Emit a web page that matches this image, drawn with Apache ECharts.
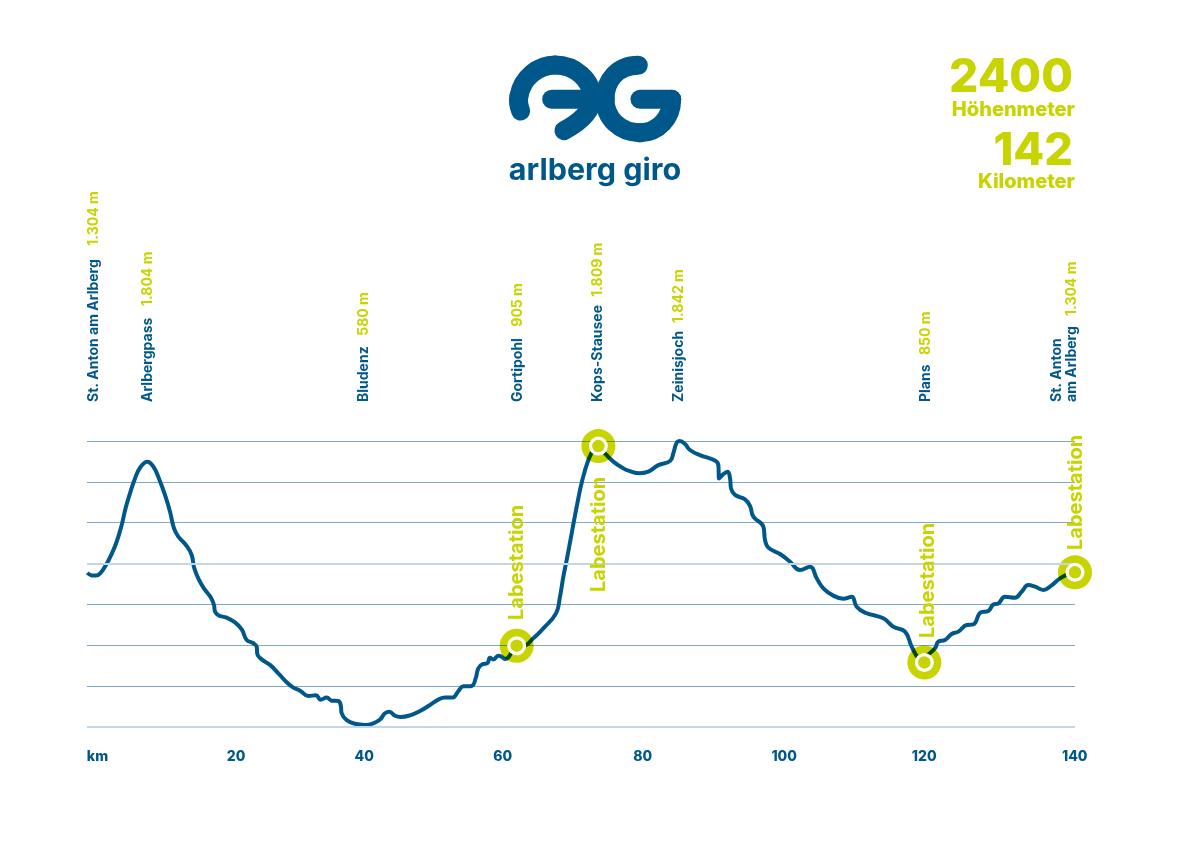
<!DOCTYPE html>
<html>
<head>
<meta charset="utf-8">
<script src="https://cdnjs.cloudflare.com/ajax/libs/echarts/6.0.0/echarts.min.js"></script>
<style>
  html, body { margin: 0; padding: 0; background: #fff; }
  #container { width: 1191px; height: 842px; }
</style>
</head>
<body>
<div id="container"></div>
<script type="text/javascript">
// route profile: km along the route, height in m
var routeKm = [
  0.05, 0.67, 1.29, 1.95, 2.71, 3.52, 4.24, 4.90, 5.52, 6.14, 6.86, 7.67, 8.62, 9.48, 10.33, 11.14, 11.86, 12.43, 13.05, 14.24,
  14.95, 15.33, 16.00, 16.86, 17.71, 18.14, 18.29, 18.76, 19.95, 21.14, 22.10, 22.81, 23.76, 24.24, 24.33, 24.95, 26.14, 27.33, 28.52, 29.48,
  30.43, 31.62, 32.71, 33.38, 34.24, 34.95, 35.90, 36.24, 36.38, 37.10, 38.29, 39.71, 40.90, 41.86, 42.57, 43.19, 44.00, 44.81, 46.14, 47.57,
  49.00, 50.19, 51.14, 52.24, 53.05, 53.76, 54.95, 55.52, 55.90, 56.52, 57.19, 57.57, 58.05, 58.76, 59.24, 59.71, 60.19, 60.76, 61.38, 62.33,
  63.76, 65.19, 67.00, 67.57, 68.05, 68.62, 69.24, 69.95, 70.76, 71.62, 72.33, 73.05, 73.76, 75.19, 76.62, 77.33, 79.00, 80.19, 81.62, 83.29,
  83.76, 84.24, 84.71, 85.43, 86.14, 87.57, 89.71, 90.19, 90.29, 90.90, 91.52, 91.86, 92.00, 92.57, 94.00, 94.71, 95.19, 96.62, 96.86, 97.33,
  99.00, 100.43, 101.86, 103.29, 104.24, 105.19, 106.62, 108.05, 109.24, 109.95, 111.14, 113.76, 115.19, 116.86, 117.81, 118.76, 119.62, 120.05, 121.14, 121.62,
  122.57, 123.52, 124.48, 125.67, 126.62, 127.67, 128.76, 129.48, 130.19, 131.14, 132.57, 133.52, 134.48, 135.43, 136.62, 137.57, 139.00, 140.19, 141.14
];
var routeHeight = [
  1255, 1242, 1241, 1255, 1293, 1347, 1407, 1481, 1572, 1644, 1717, 1774, 1799, 1774, 1712, 1636, 1554, 1472, 1432, 1386,
  1342, 1277, 1220, 1171, 1133, 1097, 1065, 1047, 1035, 1012, 978, 926, 910, 893, 857, 831, 804, 763, 719, 693,
  678, 652, 655, 634, 644, 629, 627, 608, 567, 534, 516, 510, 518, 537, 567, 575, 555, 549, 557, 578,
  608, 634, 644, 644, 676, 699, 701, 738, 787, 808, 812, 839, 831, 849, 844, 833, 841, 872, 898, 898,
  934, 983, 1056, 1138, 1236, 1334, 1448, 1578, 1709, 1807, 1856, 1875, 1848, 1799, 1766, 1755, 1742, 1750, 1782, 1802,
  1840, 1892, 1900, 1885, 1856, 1831, 1804, 1782, 1717, 1738, 1750, 1717, 1668, 1636, 1614, 1582, 1530, 1481, 1415, 1378,
  1347, 1309, 1268, 1285, 1228, 1179, 1143, 1128, 1138, 1089, 1060, 1032, 991, 967, 893, 836, 816, 849, 885, 918,
  926, 955, 967, 999, 1002, 1061, 1068, 1100, 1105, 1138, 1133, 1162, 1195, 1187, 1171, 1187, 1228, 1249, 1257
];

// feed stations
var stationKm = [61.38, 73.05, 119.62, 141.14];
var stationHeight = [898, 1875, 816, 1257];
var stationName = 'Labestation';

// axis labels sit where the original printed them
var tickKm = [1.5, 21.3, 39.6, 59.4, 79.4, 99.6, 119.6, 141.1];
var tickText = ['km', '20', '40', '60', '80', '100', '120', '140'];

// place names along the top
var placeNames = ['St. Anton am Arlberg', 'Arlbergpass', 'Bludenz', 'Gortipohl', 'Kops-Stausee', 'Zeinisjoch', 'Plans'];
var placeHeights = ['1.304 m', '1.804 m', '580 m', '905 m', '1.809 m', '1.842 m', '850 m'];
var lastPlaceLines = ['St. Anton', 'am Arlberg'];
var lastPlaceHeight = '1.304 m';

var statValues = ['2400', '142'];
var statNames = ['Höhenmeter', 'Kilometer'];

var BLUE = '#00578a';
var LIME = '#c8d400';
var FONT = 'Inter';

function pairs(xs, ys) {
  return xs.map(function (x, i) { return [x, ys[i]]; });
}

// upright text read from bottom to top
function vtext(str, x, y, color, size) {
  return {
    type: 'text', x: x, y: y, rotation: Math.PI / 2, z: 20,
    style: { text: str, fill: color, font: '700 ' + size + 'px ' + FONT, textAlign: 'left', textVerticalAlign: 'middle' }
  };
}
// y is the middle of the line
function htext(str, x, y, color, size, align) {
  return {
    type: 'text', x: x, y: y, z: 20,
    style: { text: str, fill: color, font: '800 ' + size + 'px ' + FONT, textAlign: align, textVerticalAlign: 'middle' }
  };
}

var placeX = [93.7, 147.7, 364, 518, 598, 679, 925.7];
var heightBottom = [245.7, 306, 335.7, 326.7, 296.7, 323, 355];
var elements = [];
placeNames.forEach(function (name, i) {
  elements.push(vtext(name, placeX[i], 402, BLUE, 14));
  elements.push(vtext(placeHeights[i], placeX[i], heightBottom[i], LIME, 14));
});
elements.push(vtext(lastPlaceLines[0], 1056.7, 402, BLUE, 14));
elements.push(vtext(lastPlaceLines[1], 1071.7, 402, BLUE, 14));
elements.push(vtext(lastPlaceHeight, 1071.7, 316, LIME, 14));

// Labestation captions
[[517.2, 620], [598.8, 592], [927.5, 638], [1076.2, 550]].forEach(function (p) {
  elements.push(vtext(stationName, p[0], p[1], LIME, 20));
});

elements.push(htext(statValues[0], 1073, 78, LIME, 46, 'right'));
elements.push(htext(statNames[0], 1075, 110, LIME, 20, 'right'));
elements.push(htext(statValues[1], 1073, 151, LIME, 45, 'right'));
elements.push(htext(statNames[1], 1075, 182, LIME, 20, 'right'));

// logo, thick round strokes
var logoStroke = { fill: null, stroke: BLUE, lineWidth: 19, lineCap: 'round', lineJoin: 'round' };
function logoCurve(a, b, c, d) {
  elements.push({
    type: 'bezierCurve', z: 20, style: logoStroke,
    shape: { x1: a[0], y1: a[1], cpx1: b[0], cpy1: b[1], cpx2: c[0], cpy2: c[1], x2: d[0], y2: d[1] }
  });
}
logoCurve([520.7, 111], [518, 104], [518, 100], [519, 96]);
logoCurve([519, 96], [522, 78], [538, 65], [555, 65]);
logoCurve([555, 65], [575, 65], [592, 80], [592, 98]);
logoCurve([592, 98], [592, 112], [580, 122], [564, 130.7]);
logoCurve([551.7, 99.3], [570, 99.3], [590, 99.3], [605, 99.3]);
logoCurve([638.3, 65.3], [618, 65.3], [605, 80], [605, 99.3]);
logoCurve([605, 99.3], [605, 118], [620, 132.7], [640, 132.7]);
logoCurve([640, 132.7], [658, 132.7], [671.7, 118], [671.7, 99.3]);
logoCurve([671.7, 99.3], [660, 99.3], [650, 99.3], [640, 99.3]);
elements.push({
  type: 'text', x: 595, y: 171, z: 20,
  style: { text: 'arlberg giro', fill: BLUE, font: '700 30.5px Inter', textAlign: 'center', textVerticalAlign: 'middle' }
});

var myChart = echarts.init(document.getElementById('container'), null, { renderer: 'canvas' });

var option = {
  animation: false,
  backgroundColor: '#fff',
  grid: { left: 87, right: 116, top: 441, bottom: 115 },
  xAxis: {
    type: 'value',
    min: 0,
    max: 141.14,
    splitLine: { show: false },
    axisLine: { show: false },
    axisTick: { show: false },
    axisLabel: {
      customValues: tickKm,
      showMinLabel: true,
      showMaxLabel: true,
      margin: 23,
      color: BLUE,
      fontFamily: FONT,
      fontWeight: 800,
      fontSize: 14,
      formatter: function (v) { return tickText[tickKm.indexOf(v)]; }
    }
  },
  yAxis: {
    type: 'value',
    min: 500,
    max: 1900,
    interval: 200,
    axisLine: { show: false },
    axisTick: { show: false },
    axisLabel: { show: false },
    splitLine: {
      lineStyle: {
        width: 1,
        color: ['#c3d6e2', '#7fa9c4', '#7fa9c4', '#7fa9c4', '#c3d6e2', '#7fa9c4', '#7fa9c4', '#7fa9c4']
      }
    }
  },
  graphic: { elements: elements },
  series: [
    {
      name: 'profile',
      type: 'line',
      z: 3,
      clip: false,
      data: pairs(routeKm, routeHeight),
      smooth: 0.45,
      symbol: 'none',
      lineStyle: { color: BLUE, width: 4 },
      markLine: {
        silent: true,
        symbol: 'none',
        label: { show: false },
        lineStyle: { color: '#c3d6e2', width: 2, type: 'solid' },
        data: [{ yAxis: 500 }, { yAxis: 1300 }]
      }
    },
    {
      name: 'ring',
      type: 'scatter',
      z: 4,
      clip: false,
      blendMode: 'multiply',
      symbolSize: 34,
      itemStyle: { color: LIME, opacity: 1 },
      data: pairs(stationKm, stationHeight)
    },
    {
      name: 'gap',
      type: 'scatter',
      z: 5,
      clip: false,
      symbolSize: 19,
      itemStyle: { color: '#fff', opacity: 1 },
      data: pairs(stationKm, stationHeight)
    },
    {
      name: 'dot',
      type: 'scatter',
      z: 6,
      clip: false,
      symbolSize: 12.5,
      itemStyle: { color: LIME, opacity: 1 },
      data: pairs(stationKm, stationHeight)
    }
  ]
};
myChart.setOption(option);
</script>
</body>
</html>
